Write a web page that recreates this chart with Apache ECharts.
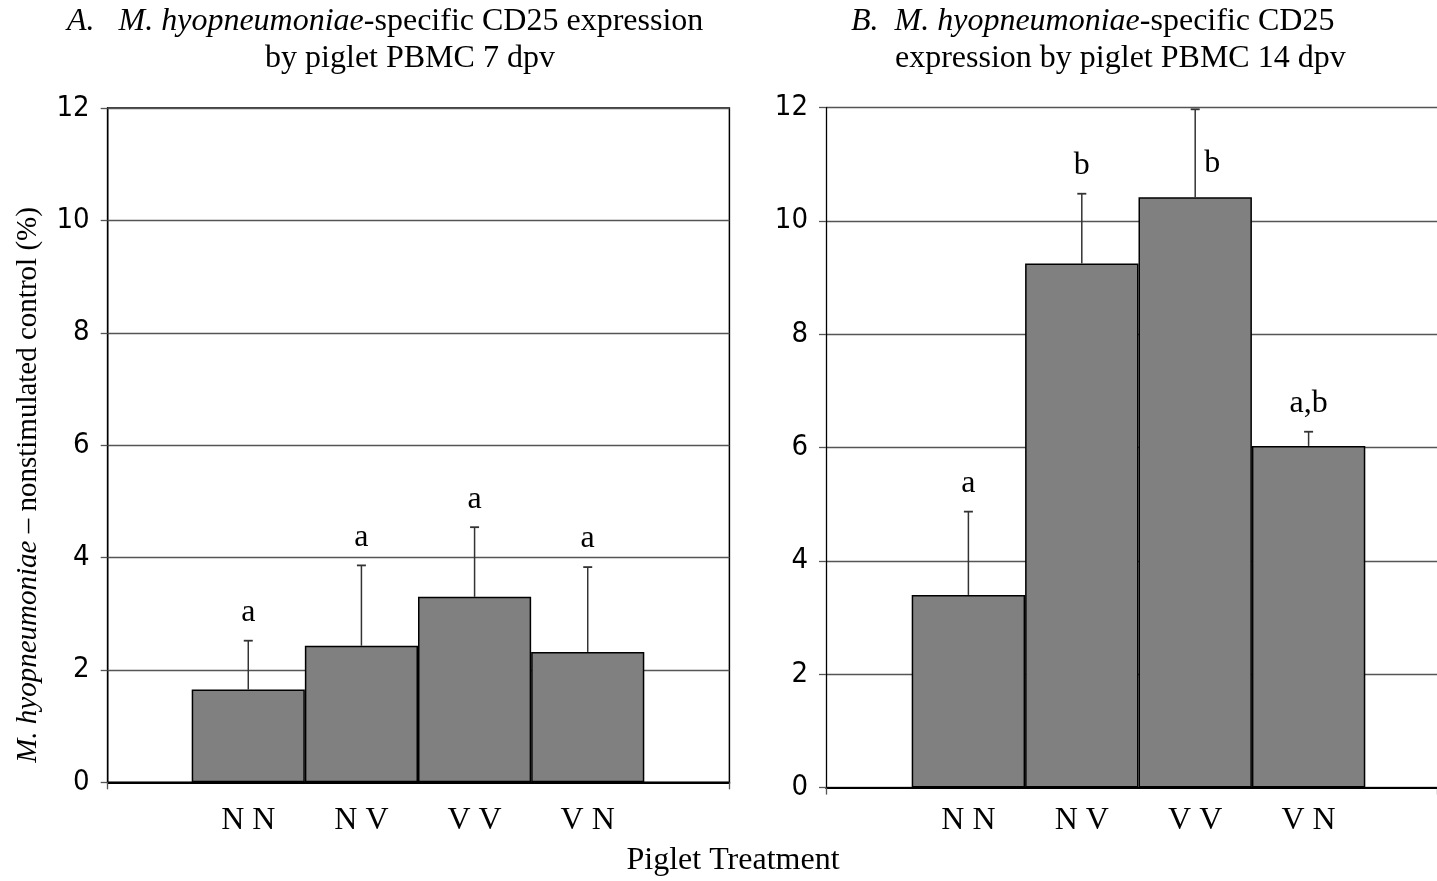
<!DOCTYPE html>
<html><head><meta charset="utf-8">
<script src="https://cdn.jsdelivr.net/npm/echarts@6/dist/echarts.min.js"></script>
<style>html,body{margin:0;padding:0;background:#fff}#c{width:1437px;height:881px}</style>
</head><body><div id="c"></div>
<script>
// ---- data ----
const categories = ['N N', 'N V', 'V V', 'V N'];
const meanA = [1.65, 2.43, 3.30, 2.32];
const errTopA = [2.52, 3.86, 4.54, 3.83];
const lettersA = ['a', 'a', 'a', 'a'];
const meanB = [3.40, 9.25, 10.42, 6.03];
const errTopB = [4.87, 10.48, 11.97, 6.28];
const lettersB = ['a', 'b', 'b', 'a,b'];
const yMin = 0, yMax = 12, yStep = 2;

// ---- styles ----
const SERIF = '"Liberation Serif","Times New Roman",serif';
const NARROW = '"Liberation Sans Narrow","Arial Narrow","DejaVu Sans Condensed","Roboto Condensed","Liberation Sans",sans-serif';
const FS = 32;

const chart = echarts.init(document.getElementById('c'), null, {renderer: 'canvas'});

const gA = {top: 108, bottom: 881 - 782.3};
const gB = {top: 107.6, bottom: 881 - 787.6};

function valueY(show, gi, labels, margin) {
  return {
    type: 'value', gridIndex: gi, min: yMin, max: yMax, interval: yStep,
    show: show,
    axisLine: {show: labels, lineStyle: {color: '#000', width: 1.3}},
    axisTick: {show: labels, length: 7, lineStyle: {color: '#555', width: 1.3}},
    axisLabel: {show: labels, fontFamily: NARROW, fontSize: 29, color: '#000', margin: margin},
    splitLine: {show: labels, lineStyle: {color: '#555', width: 1.3}}
  };
}
function boxX(gi) {
  return {
    type: 'value', gridIndex: gi, min: 0, max: 1, interval: 1,
    axisLine: {show: true, onZero: false, lineStyle: {color: '#000', width: 1.8}},
    axisTick: {show: true, length: 7, lineStyle: {color: '#555', width: 1.3}},
    axisLabel: {show: false}, splitLine: {show: false}
  };
}
function catX(gi, margin) {
  return {
    type: 'category', gridIndex: gi, data: categories,
    axisLine: {show: false}, axisTick: {show: false},
    axisLabel: {fontFamily: SERIF, fontSize: FS, color: '#000', margin: margin},
    splitLine: {show: false}
  };
}
function errSeries(gi, means, tops, letters) {
  return {
    type: 'custom', xAxisIndex: gi, yAxisIndex: gi, z: 5,
    data: means.map((m, i) => [i, m, tops[i]]),
    renderItem(params, api) {
      const b = api.coord([api.value(0), api.value(1)]);
      const t = api.coord([api.value(0), api.value(2)]);
      const i = params.dataIndex;
      const gridTop = params.coordSys.y;
      let lx = t[0], ly = t[1] - 28;
      if (ly - 12 < gridTop) { lx = t[0] + 17; ly = b[1] - 34; }
      return {type: 'group', children: [
        {type: 'line', shape: {x1: b[0], y1: b[1], x2: t[0], y2: t[1]}, style: {stroke: '#333', lineWidth: 1.5}},
        {type: 'line', shape: {x1: t[0] - 4.5, y1: t[1], x2: t[0] + 4.5, y2: t[1]}, style: {stroke: '#333', lineWidth: 1.8}},
        {type: 'text', x: lx, y: ly, style: {text: letters[i], font: FS + 'px ' + SERIF, fill: '#000', align: 'center', verticalAlign: 'middle'}}
      ]};
    }
  };
}
function barSeries(gi, means) {
  return {
    type: 'bar', xAxisIndex: gi, yAxisIndex: gi, data: means, barWidth: '100%', barCategoryGap: '0%',
    itemStyle: {color: '#808080', borderColor: '#000', borderWidth: 1.5}, z: 3, silent: true
  };
}
function rich(fs) {
  return {i: {fontFamily: SERIF, fontSize: fs, fontStyle: 'italic', fill: '#000'}, n: {fontFamily: SERIF, fontSize: fs, fill: '#000'}};
}

const option = {
  animation: false,
  backgroundColor: '#fff',
  grid: [
    {left: 107.7, width: 621.7, top: gA.top, bottom: gA.bottom, show: true, borderColor: '#000', borderWidth: 1.5, backgroundColor: 'transparent'},
    {left: 191.7, width: 452.6, top: gA.top, bottom: gA.bottom},
    {left: 826, right: 0, top: gB.top, bottom: gB.bottom},
    {left: 911.7, width: 453.6, top: gB.top, bottom: gB.bottom}
  ],
  xAxis: [boxX(0), catX(1, 22), boxX(2), catX(3, 17)],
  yAxis: [valueY(true, 0, true, 18), valueY(false, 1, false, 0), valueY(true, 2, true, 18), valueY(false, 3, false, 0)],
  series: [
    barSeries(1, meanA), errSeries(1, meanA, errTopA, lettersA),
    barSeries(3, meanB), errSeries(3, meanB, errTopB, lettersB)
  ],
  graphic: [
    {type: 'text', x: 67, y: 22, style: {
      text: '{i|A.   M. hyopneumoniae}{n|-specific CD25 expression}', verticalAlign: 'middle', rich: rich(FS)}},
    {type: 'text', x: 410, y: 59, style: {text: 'by piglet PBMC 7 dpv', font: FS + 'px ' + SERIF, fill: '#000', align: 'center', verticalAlign: 'middle'}},
    {type: 'text', x: 851, y: 22, style: {
      text: '{i|B.  M. hyopneumoniae}{n|-specific CD25}', verticalAlign: 'middle', rich: rich(FS)}},
    {type: 'text', x: 895, y: 59, style: {text: 'expression by piglet PBMC 14 dpv', font: FS + 'px ' + SERIF, fill: '#000', align: 'left', verticalAlign: 'middle'}},
    {type: 'text', x: 28, y: 485, rotation: Math.PI / 2, style: {
      text: '{i|M. hyopneumoniae}{n| – nonstimulated control (%)}', align: 'center', verticalAlign: 'middle', rich: rich(29)}},
    {type: 'text', x: 733, y: 861, style: {text: 'Piglet Treatment', font: FS + 'px ' + SERIF, fill: '#000', align: 'center', verticalAlign: 'middle'}}
  ]
};
chart.setOption(option);
</script>
</body></html>
